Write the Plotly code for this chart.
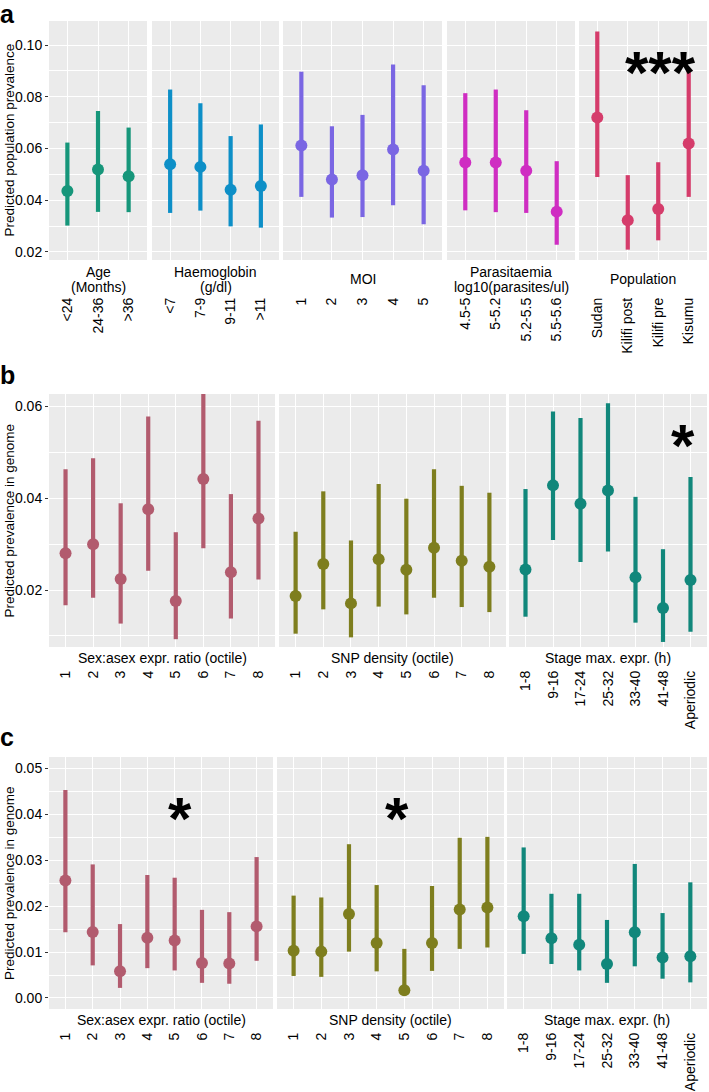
import plotly.graph_objects as go

W, H = 709, 1092

# ---------------- Panel a data ----------------
age_cats = ["<24", "24-36", ">36"]
age_est = [0.0436, 0.0519, 0.0493]
age_lo = [0.0302, 0.0355, 0.0354]
age_hi = [0.0623, 0.0745, 0.0681]

hb_cats = ["<7", "7-9", "9-11", ">11"]
hb_est = [0.0539, 0.0529, 0.0441, 0.0455]
hb_lo = [0.0351, 0.0360, 0.0299, 0.0294]
hb_hi = [0.0828, 0.0775, 0.0648, 0.0693]

moi_cats = ["1", "2", "3", "4", "5"]
moi_est = [0.0612, 0.0480, 0.0497, 0.0596, 0.0514]
moi_lo = [0.0413, 0.0333, 0.0335, 0.0381, 0.0307]
moi_hi = [0.0897, 0.0686, 0.0730, 0.0925, 0.0845]

par_cats = ["4.5-5", "5-5.2", "5.2-5.5", "5.5-5.6"]
par_est = [0.0546, 0.0546, 0.0514, 0.0356]
par_lo = [0.0361, 0.0354, 0.0351, 0.0228]
par_hi = [0.0814, 0.0828, 0.0748, 0.0551]

pop_cats = ["Sudan", "Kilifi post", "Kilifi pre", "Kisumu"]
pop_est = [0.0720, 0.0323, 0.0366, 0.0619]
pop_lo = [0.0490, 0.0209, 0.0245, 0.0413]
pop_hi = [0.1052, 0.0497, 0.0547, 0.0903]

# ---------------- Panel b data ----------------
octile_cats = ["1", "2", "3", "4", "5", "6", "7", "8"]
stage_cats = ["1-8", "9-16", "17-24", "25-32", "33-40", "41-48", "Aperiodic"]

b_sex_est = [0.0280, 0.0300, 0.0224, 0.0376, 0.0176, 0.0442, 0.0239, 0.0356]
b_sex_lo = [0.0167, 0.0183, 0.0127, 0.0242, 0.0093, 0.0291, 0.0138, 0.0223]
b_sex_hi = [0.0463, 0.0487, 0.0389, 0.0578, 0.0326, 0.0660, 0.0409, 0.0569]

b_snp_est = [0.0187, 0.0257, 0.0171, 0.0267, 0.0244, 0.0292, 0.0264, 0.0251]
b_snp_lo = [0.0105, 0.0158, 0.0097, 0.0164, 0.0147, 0.0183, 0.0163, 0.0152]
b_snp_hi = [0.0327, 0.0415, 0.0308, 0.0431, 0.0399, 0.0463, 0.0427, 0.0412]

b_stage_est = [0.0245, 0.0428, 0.0388, 0.0417, 0.0228, 0.0161, 0.0222]
b_stage_lo = [0.0142, 0.0309, 0.0261, 0.0284, 0.0129, 0.0087, 0.0109]
b_stage_hi = [0.0420, 0.0589, 0.0575, 0.0607, 0.0403, 0.0289, 0.0446]

# ---------------- Panel c data ----------------
c_sex_est = [0.0256, 0.0144, 0.0058, 0.0131, 0.0125, 0.0076, 0.0075, 0.0156]
c_sex_lo = [0.0143, 0.0071, 0.0022, 0.0065, 0.0060, 0.0033, 0.0031, 0.0081]
c_sex_hi = [0.0453, 0.0291, 0.0161, 0.0268, 0.0262, 0.0192, 0.0187, 0.0307]

c_snp_est = [0.0103, 0.0101, 0.0183, 0.0120, 0.0017, 0.0120, 0.0193, 0.0197]
c_snp_lo = [0.0048, 0.0046, 0.0101, 0.0058, 0.0006, 0.0059, 0.0107, 0.0110]
c_snp_hi = [0.0223, 0.0219, 0.0335, 0.0246, 0.0107, 0.0244, 0.0349, 0.0351]

c_stage_est = [0.0178, 0.0130, 0.0116, 0.0074, 0.0143, 0.0088, 0.0091]
c_stage_lo = [0.0096, 0.0074, 0.0060, 0.0033, 0.0069, 0.0042, 0.0034]
c_stage_hi = [0.0328, 0.0227, 0.0227, 0.0170, 0.0292, 0.0185, 0.0252]

# colours
C_AGE = "#16967a"
C_HB = "#0d8fc7"
C_MOI = "#7a66e3"
C_PAR = "#cf2dc2"
C_POP = "#d53c6b"
C_SEX = "#b25b6e"
C_SNP = "#7e7e1e"
C_STAGE = "#11877b"

FONT = "Liberation Sans, Arial, sans-serif"

# facets: (cats, est, lo, hi, colour, title lines, x-pixel domain, panel key)
facets = [
    (age_cats, age_est, age_lo, age_hi, C_AGE, ["Age", "(Months)"], (49, 147), "a"),
    (hb_cats, hb_est, hb_lo, hb_hi, C_HB, ["Haemoglobin", "(g/dl)"], (152, 279), "a"),
    (moi_cats, moi_est, moi_lo, moi_hi, C_MOI, ["MOI"], (283, 442), "a"),
    (par_cats, par_est, par_lo, par_hi, C_PAR, ["Parasitaemia", "log10(parasites/ul)"], (447, 575), "a"),
    (pop_cats, pop_est, pop_lo, pop_hi, C_POP, ["Population"], (579, 707), "a"),
    (octile_cats, b_sex_est, b_sex_lo, b_sex_hi, C_SEX, ["Sex:asex expr. ratio (octile)"], (49, 275), "b"),
    (octile_cats, b_snp_est, b_snp_lo, b_snp_hi, C_SNP, ["SNP density (octile)"], (279, 506), "b"),
    (stage_cats, b_stage_est, b_stage_lo, b_stage_hi, C_STAGE, ["Stage max. expr. (h)"], (509, 707), "b"),
    (octile_cats, c_sex_est, c_sex_lo, c_sex_hi, C_SEX, ["Sex:asex expr. ratio (octile)"], (49, 273), "c"),
    (octile_cats, c_snp_est, c_snp_lo, c_snp_hi, C_SNP, ["SNP density (octile)"], (277, 504), "c"),
    (stage_cats, c_stage_est, c_stage_lo, c_stage_hi, C_STAGE, ["Stage max. expr. (h)"], (507, 707), "c"),
]

panels = {
    "a": dict(yp=(21, 260), yrange=[0.0169, 0.1093], dtick=0.02, tick0=0.0, mdtick=0.01,
              fmt=".2f", ytitle="Predicted population prevalence", standoff=34,
              title_y=[272, 287], single_y=279),
    "b": dict(yp=(394, 647), yrange=[0.0076, 0.0627], dtick=0.02, tick0=0.0, mdtick=0.01,
              fmt=".2f", ytitle="Predicted prevalence in genome", standoff=20,
              title_y=[658], single_y=658),
    "c": dict(yp=(757, 1009), yrange=[-0.0024, 0.0525], dtick=0.01, tick0=0.0, mdtick=0.005,
              fmt=".2f", ytitle="Predicted prevalence in genome", standoff=20,
              title_y=[1020], single_y=1020),
}

fig = go.Figure()
layout = {}
annotations = []
first_in_panel = set()

for i, (cats, est, lo, hi, col, tlines, (x0, x1), pk) in enumerate(facets, start=1):
    P = panels[pk]
    first = pk not in first_in_panel
    first_in_panel.add(pk)
    up = [h - e for h, e in zip(hi, est)]
    dn = [e - l for e, l in zip(est, lo)]
    fig.add_trace(go.Scatter(
        x=cats, y=est, mode="markers",
        marker=dict(size=12, color=col),
        error_y=dict(type="data", symmetric=False, array=up, arrayminus=dn,
                     thickness=4.2, width=0, color=col),
        xaxis=f"x{i}", yaxis=f"y{i}", showlegend=False, hoverinfo="skip",
    ))
    n = len(cats)
    layout[f"xaxis{i}"] = dict(
        domain=[x0 / W, x1 / W], anchor=f"y{i}", type="category",
        categoryorder="array", categoryarray=cats, range=[-0.6, n - 0.4],
        tickangle=-90, ticklabelstandoff=P["standoff"], ticks="",
        showgrid=True, gridcolor="white", gridwidth=1.1, automargin=False,
        zeroline=False, showline=False, fixedrange=True,
        tickfont=dict(family=FONT, size=14, color="black"),
    )
    yt, yb = P["yp"]
    layout[f"yaxis{i}"] = dict(
        domain=[1 - yb / H, 1 - yt / H], anchor=f"x{i}", automargin=False,
        range=P["yrange"], dtick=P["dtick"], tick0=P["tick0"], tickformat=P["fmt"],
        showticklabels=first, ticks="outside" if first else "", ticklen=3,
        tickcolor="#333333", tickwidth=1,
        showgrid=True, gridcolor="white", gridwidth=1.1,
        minor=dict(dtick=P["mdtick"], tick0=P["tick0"], showgrid=True,
                   gridcolor="white", gridwidth=0.5, ticks=""),
        zeroline=False, showline=False, fixedrange=True,
        tickfont=dict(family=FONT, size=14, color="black"),
    )
    # facet titles
    xc = (x0 + x1) / 2 / W
    ys = P["title_y"] if len(tlines) > 1 else [P["single_y"]]
    for line, yy in zip(tlines, ys):
        annotations.append(dict(
            text=line, x=xc, y=1 - yy / H, xref="paper", yref="paper",
            xanchor="center", yanchor="middle", showarrow=False,
            font=dict(family=FONT, size=14, color="black"),
        ))

# y-axis titles and panel letters
for pk, P in panels.items():
    yt, yb = P["yp"]
    annotations.append(dict(
        text=P["ytitle"], x=9 / W, y=1 - (yt + yb) / 2 / H, xref="paper", yref="paper",
        xanchor="center", yanchor="middle", textangle=-90, showarrow=False,
        font=dict(family=FONT, size=13.5, color="black"),
    ))

letters = [("a", 0), ("b", 361), ("c", 723)]
for lt, yy in letters:
    annotations.append(dict(
        text=f"<b>{lt}</b>", x=0, y=1 - yy / H, xref="paper", yref="paper",
        xanchor="left", yanchor="top", showarrow=False, borderpad=0, borderwidth=0,
        font=dict(family=FONT, size=25, color="black"),
    ))

# significance stars
stars = [("***", 660, 73), ("*", 683, 445), ("*", 180, 818), ("*", 397, 818)]
for s, xx, yy in stars:
    annotations.append(dict(
        text=f"<b>{s}</b>", x=xx / W, y=1 - yy / H, xref="paper", yref="paper",
        xanchor="center", yanchor="middle", showarrow=False,
        font=dict(family=FONT, size=60, color="black"),
    ))

fig.update_layout(
    width=W, height=H, autosize=False,
    margin=dict(l=0, r=0, t=0, b=0),
    paper_bgcolor="white", plot_bgcolor="#EBEBEB",
    annotations=annotations, **layout,
)

fig.write_html("out.html", config={"displayModeBar": False},
               post_script="document.body.style.margin='0';document.body.style.overflow='hidden';")
